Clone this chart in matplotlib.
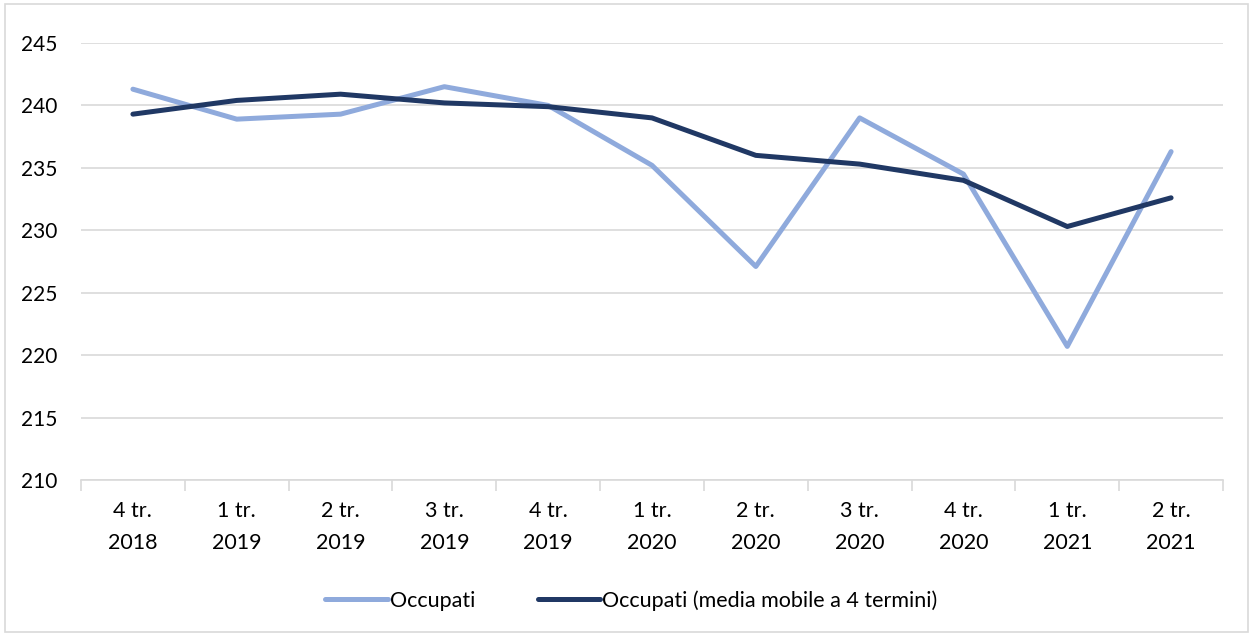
import numpy as np
import matplotlib.pyplot as plt
from matplotlib.patches import Rectangle

plt.rcParams['font.family'] = ['Lato', 'DejaVu Sans']

quarters = ["4 tr.\n2018", "1 tr.\n2019", "2 tr.\n2019", "3 tr.\n2019", "4 tr.\n2019",
            "1 tr.\n2020", "2 tr.\n2020", "3 tr.\n2020", "4 tr.\n2020", "1 tr.\n2021",
            "2 tr.\n2021"]
occupati = [241.3, 238.9, 239.3, 241.5, 240.0, 235.2, 227.1, 239.0, 234.5, 220.7, 236.3]
media_mobile = [239.3, 240.4, 240.9, 240.2, 239.9, 239.0, 236.0, 235.3, 234.0, 230.3, 232.6]

fig = plt.figure(figsize=(12.5, 6.34), dpi=100)
ax = fig.add_axes([0.0648, 0.2429, 0.9136, 0.6893])

x = np.arange(len(quarters))
ax.plot(x, occupati, color='#8FAADC', lw=3.6, solid_capstyle='round', label='Occupati', zorder=3)
ax.plot(x, media_mobile, color='#203864', lw=3.6, solid_capstyle='round',
        label='Occupati (media mobile a 4 termini)', zorder=4)

ax.set_xlim(-0.5, len(quarters) - 0.5)
ax.set_ylim(210, 245)
ax.set_yticks(np.arange(210, 246, 5))
ax.grid(axis='y', color='#D9D9D9', lw=1.2)
ax.set_axisbelow(True)
for s in ['top', 'right', 'left']:
    ax.spines[s].set_visible(False)
ax.spines['bottom'].set_color('#D9D9D9')
ax.spines['bottom'].set_linewidth(1.2)

ax.set_xticks(x)
ax.set_xticklabels(quarters, fontsize=15.5, linespacing=1.75)
ax.tick_params(axis='x', length=0, pad=15)
ax.set_xticks(np.arange(-0.5, len(quarters), 1), minor=True)
ax.tick_params(axis='x', which='minor', length=8, color='#D9D9D9', width=1.2)
ax.tick_params(axis='y', length=0, labelsize=15, pad=17)

leg = fig.legend(loc='center', bbox_to_anchor=(0.505, 0.053), ncol=2, frameon=False,
                 fontsize=15.5, handlelength=2.9, handletextpad=0.1, columnspacing=2.9)

fig.add_artist(Rectangle((0.004, 0.003), 0.994, 0.990, transform=fig.transFigure,
                         fill=False, edgecolor='#D9D9D9', lw=1.2))

fig.savefig('out.png', dpi=100)
